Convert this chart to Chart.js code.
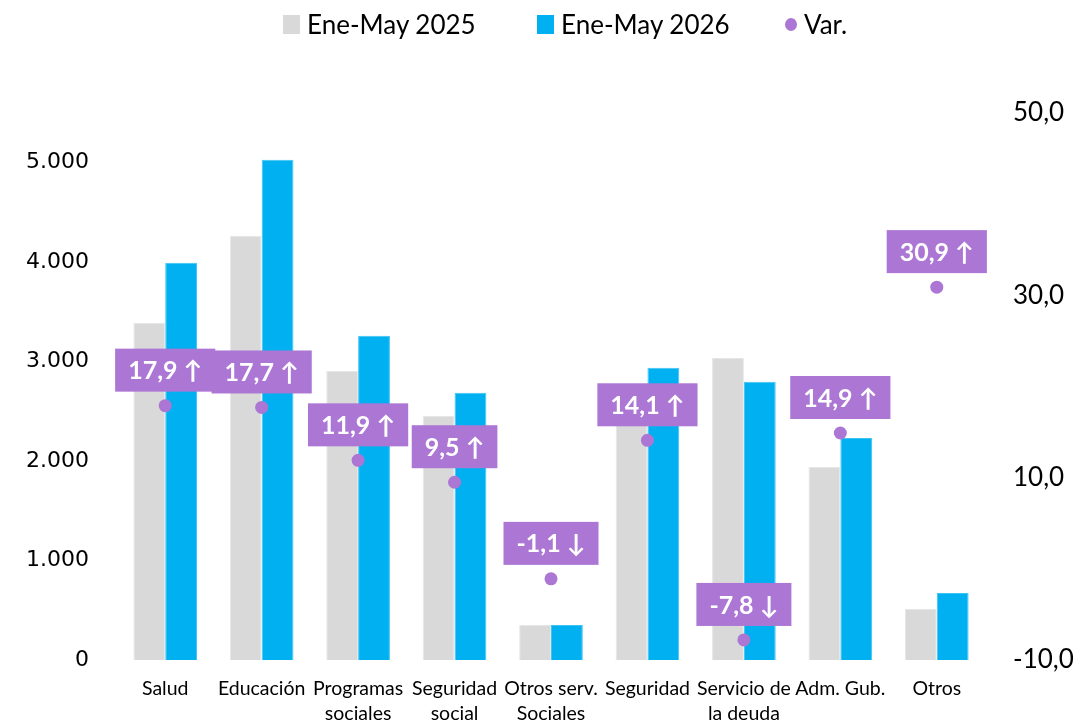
<!DOCTYPE html>
<html>
<head>
<meta charset="utf-8">
<script src="https://cdn.jsdelivr.net/npm/chart.js@4/dist/chart.umd.min.js"></script>
<style>
  html, body { margin: 0; padding: 0; background: #fff; }
  #wrap { position: relative; width: 1076px; height: 722px; }
  .leg { position: absolute; top: 6px; height: 36px; display: flex; align-items: center;
         font-family: Lato, "Open Sans", sans-serif; font-size: 26px; color: #000; }
  .leg i { display: inline-block; margin-right: 7px; }
  .sq { width: 17px; height: 19px; }
  .dot { width: 12px; height: 13px; border-radius: 50%; }
</style>
</head>
<body>
<div id="wrap">
  <canvas id="chart"></canvas>
  <div class="leg" style="left:283px"><i class="sq" style="background:#D9D9D9"></i>Ene-May 2025</div>
  <div class="leg" style="left:537px"><i class="sq" style="background:#00B0F0"></i>Ene-May 2026</div>
  <div class="leg" style="left:785px"><i class="dot" style="background:#AC76D4"></i>Var.</div>
</div>
<script>
const categories = ['Salud', 'Educación', ['Programas', 'sociales'], ['Seguridad', 'social'],
  ['Otros serv.', 'Sociales'], 'Seguridad', ['Servicio de', 'la deuda'], 'Adm. Gub.', 'Otros'];
const ene_may_2025 = [3390, 4266, 2907, 2455, 352, 2575, 3038, 1942, 513];
const ene_may_2026 = [3994, 5030, 3260, 2686, 352, 2938, 2797, 2233, 674];
const variacion = [17.9, 17.7, 11.9, 9.5, -1.1, 14.1, -7.8, 14.9, 30.9];
const leftTicks = [0, 1000, 2000, 3000, 4000, 5000];
const rightTicks = [-10, 10, 30, 50];

const purple = '#AC76D4';

// purple boxes with the variation above each point
const varLabels = {
  id: 'varLabels',
  afterDatasetsDraw(chart) {
    const meta = chart.getDatasetMeta(2);
    const ctx = chart.ctx;
    ctx.save();
    ctx.font = 'bold 25px Lato, "DejaVu Sans", sans-serif';
    ctx.textBaseline = 'middle';
    ctx.textAlign = 'center';
    meta.data.forEach((pt, i) => {
      const v = variacion[i];
      const txt = v.toFixed(1).replace('.', ',') + ' ' + (v >= 0 ? '↑' : '↓');
      const w = ctx.measureText(txt).width + 26;
      const h = 43;
      const bottom = pt.y - 14;
      ctx.fillStyle = purple;
      ctx.fillRect(pt.x - w / 2, bottom - h, w, h);
      ctx.fillStyle = '#fff';
      ctx.fillText(txt, pt.x, bottom - h / 2 + 1);
    });
    ctx.restore();
  }
};

try {
  const ctx = document.getElementById('chart').getContext('2d');
  new Chart(ctx, {
    type: 'bar',
    data: {
      labels: categories,
      datasets: [
        {
          label: 'Ene-May 2025',
          data: ene_may_2025,
          backgroundColor: '#D9D9D9',
          borderColor: '#E6E6E6',
          borderWidth: 1,
          yAxisID: 'y',
          order: 1
        },
        {
          label: 'Ene-May 2026',
          data: ene_may_2026,
          backgroundColor: '#00B0F0',
          borderColor: '#3CC4F3',
          borderWidth: 1,
          yAxisID: 'y',
          order: 1
        },
        {
          type: 'line',
          label: 'Var.',
          data: variacion,
          showLine: false,
          pointRadius: 6.5,
          pointHoverRadius: 6.5,
          pointBackgroundColor: purple,
          pointBorderWidth: 0,
          yAxisID: 'y1',
          order: 0
        }
      ]
    },
    options: {
      responsive: true,
      maintainAspectRatio: false,
      animation: false,
      layout: { padding: { top: 113, left: 0, right: 0, bottom: 0 } },
      datasets: { bar: { barPercentage: 1, categoryPercentage: 0.66 } },
      plugins: {
        legend: { display: false },
        tooltip: { enabled: false }
      },
      scales: {
        x: {
          grid: { display: false, drawTicks: false },
          border: { display: false },
          ticks: {
            autoSkip: false,
            maxRotation: 0,
            padding: 16,
            color: '#000',
            font: { family: 'Lato, "Open Sans", sans-serif', size: 19.5, lineHeight: 1.3 }
          },
          afterFit(scale) { scale.height = 62; }
        },
        y: {
          position: 'left',
          min: 0,
          max: 5500,
          grid: { display: false, drawTicks: false },
          border: { display: false },
          afterBuildTicks(scale) { scale.ticks = leftTicks.map(v => ({ value: v })); },
          ticks: {
            padding: 28,
            color: '#000',
            font: { family: '"DejaVu Sans", sans-serif', size: 22 },
            callback: v => v.toLocaleString('de-DE')
          },
          afterFit(scale) { scale.width = 117; }
        },
        y1: {
          position: 'right',
          min: -10,
          max: 50,
          grid: { display: false, drawTicks: false },
          border: { display: false },
          afterBuildTicks(scale) { scale.ticks = rightTicks.map(v => ({ value: v })); },
          ticks: {
            padding: 28,
            color: '#000',
            font: { family: 'Lato, "Open Sans", sans-serif', size: 26 },
            callback: v => v.toFixed(1).replace('.', ',')
          },
          afterFit(scale) { scale.width = 91; }
        }
      }
    },
    plugins: [varLabels]
  });
} catch (err) {
  console.error('Error rendering chart:', err);
}
</script>
</body>
</html>
